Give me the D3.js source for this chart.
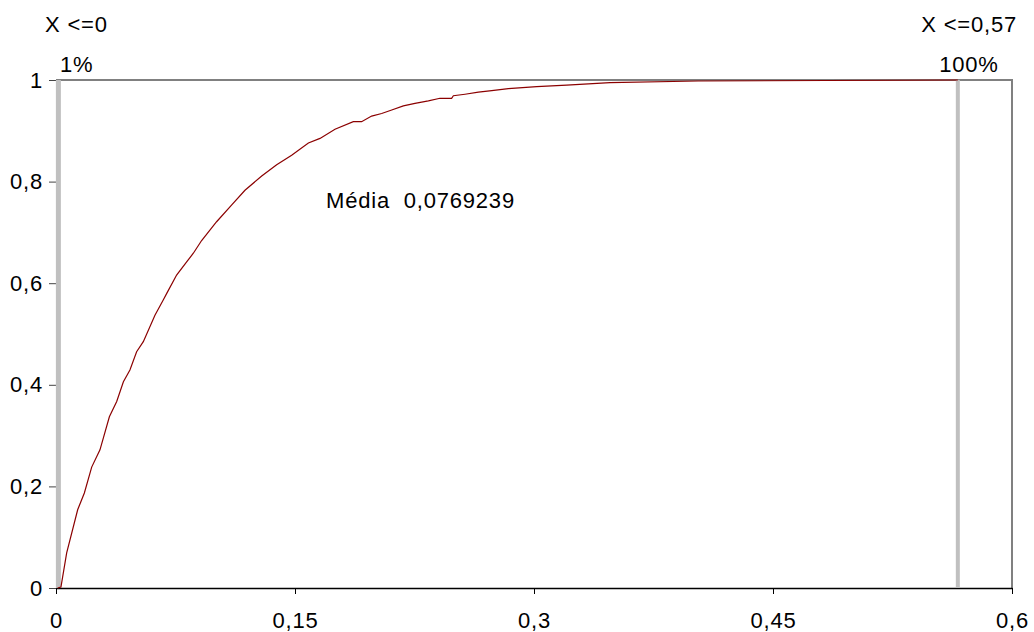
<!DOCTYPE html>
<html>
<head>
<meta charset="utf-8">
<script src="https://cdn.jsdelivr.net/npm/d3@7"></script>
<style>
  body { margin: 0; background: #fff; }
  text { font-family: "Liberation Sans", Arial, sans-serif; letter-spacing: 0.8px; }
</style>
</head>
<body>
<div id="chart"></div>
<script>
// page size and plot area
const width = 1034;
const height = 632;
const margin = {left: 56, right: 22, top: 80, bottom: 44};
const fontSize = 22;

// cumulative curve
const cdfX = [0.001, 0.0031, 0.0067, 0.0136, 0.0178, 0.0224, 0.0276, 0.0335, 0.0381, 0.0423,
              0.0464, 0.0506, 0.0548, 0.0621, 0.0673, 0.0695, 0.0757, 0.0820, 0.0862, 0.0914,
              0.1008, 0.1103, 0.1186, 0.1291, 0.1385, 0.1479, 0.1584, 0.1657, 0.1751, 0.1866,
              0.1918, 0.1981, 0.2044, 0.2107, 0.2180, 0.2253, 0.2337, 0.2410, 0.2483, 0.2494,
              0.2567, 0.2651, 0.2735, 0.2839, 0.3017, 0.3205, 0.3477, 0.4031, 0.566];
const cdfY = [0, 0.002, 0.069, 0.154, 0.187, 0.238, 0.272, 0.337, 0.367, 0.406,
              0.429, 0.465, 0.485, 0.537, 0.567, 0.580, 0.616, 0.642, 0.659, 0.684,
              0.721, 0.754, 0.783, 0.811, 0.833, 0.852, 0.876, 0.885, 0.903, 0.918,
              0.918, 0.929, 0.934, 0.941, 0.949, 0.954, 0.959, 0.964, 0.964, 0.969,
              0.972, 0.976, 0.979, 0.983, 0.987, 0.990, 0.995, 0.998, 1];

const xTicks = [0, 0.15, 0.3, 0.45, 0.6];
const yTicks = [0, 0.2, 0.4, 0.6, 0.8, 1];

// the two marker lines and their labels
const markerX = [0.001, 0.566];
const markerTop = ["X <=0", "X <=0,57"];
const markerPct = ["1%", "100%"];
const meanLabel = "Média  0,0769239";

const fmt = d => String(d).replace(".", ",");

const svg = d3.select("#chart")
  .append("svg")
  .attr("width", width)
  .attr("height", height);

const x = d3.scaleLinear().domain([0, 0.6]).range([margin.left, width - margin.right]);
const y = d3.scaleLinear().domain([0, 1]).range([height - margin.bottom, margin.top]);

// frame on top and right
svg.append("path")
  .attr("d", `M${x(0)},${y(1)}H${x(0.6)}V${y(0)}`)
  .attr("fill", "none")
  .attr("stroke", "#808080")
  .attr("stroke-width", 2);

// y axis
const yAxis = svg.append("g")
  .attr("transform", `translate(${x(0)},0)`)
  .call(d3.axisLeft(y).tickValues(yTicks).tickFormat(fmt).tickSize(7).tickSizeOuter(0));
yAxis.select(".domain").attr("stroke", "#000");
yAxis.selectAll(".tick line").attr("stroke", "#444");
yAxis.selectAll("text").attr("font-size", fontSize).attr("fill", "#000").attr("x", -13)
  .style("font-family", '"Liberation Sans", Arial, sans-serif');

// x axis
const xAxis = svg.append("g")
  .attr("transform", `translate(0,${y(0)})`)
  .call(d3.axisBottom(x).tickValues(xTicks).tickFormat(fmt).tickSize(6).tickSizeOuter(0));
xAxis.select(".domain").attr("stroke", "#000").attr("stroke-width", 1.5);
xAxis.selectAll(".tick line").attr("stroke", "#000");
xAxis.selectAll("text").attr("font-size", fontSize).attr("fill", "#000").attr("y", 24)
  .style("font-family", '"Liberation Sans", Arial, sans-serif');

// marker lines, drawn over the left axis
svg.selectAll(".marker")
  .data(markerX)
  .enter()
  .append("line")
    .attr("class", "marker")
    .attr("x1", (d, i) => x(d) + (i === 0 ? 0.8 : 0)).attr("x2", (d, i) => x(d) + (i === 0 ? 0.8 : 0))
    .attr("y1", y(0)).attr("y2", y(1))
    .attr("stroke", "#c0c0c0")
    .attr("stroke-width", (d, i) => i === 0 ? 5 : 4);

// the curve
const line = d3.line()
  .x((d, i) => x(cdfX[i]))
  .y(d => y(d));

svg.append("path")
  .datum(cdfY)
  .attr("d", line)
  .attr("fill", "none")
  .attr("stroke", "#8b0000")
  .attr("stroke-width", 1.2);

// labels over the marker lines
svg.append("text").attr("x", 45).attr("y", 32).attr("font-size", fontSize).text(markerTop[0]);
svg.append("text").attr("x", 1017).attr("y", 32).attr("font-size", fontSize)
  .attr("text-anchor", "end").text(markerTop[1]);
svg.append("text").attr("x", 60).attr("y", 72).attr("font-size", fontSize).text(markerPct[0]);
svg.append("text").attr("x", 969).attr("y", 72).attr("font-size", fontSize)
  .attr("text-anchor", "middle").text(markerPct[1]);

svg.append("text").attr("x", 326).attr("y", 208).attr("font-size", fontSize)
  .attr("xml:space", "preserve").style("white-space", "pre").text(meanLabel);
</script>
</body>
</html>
